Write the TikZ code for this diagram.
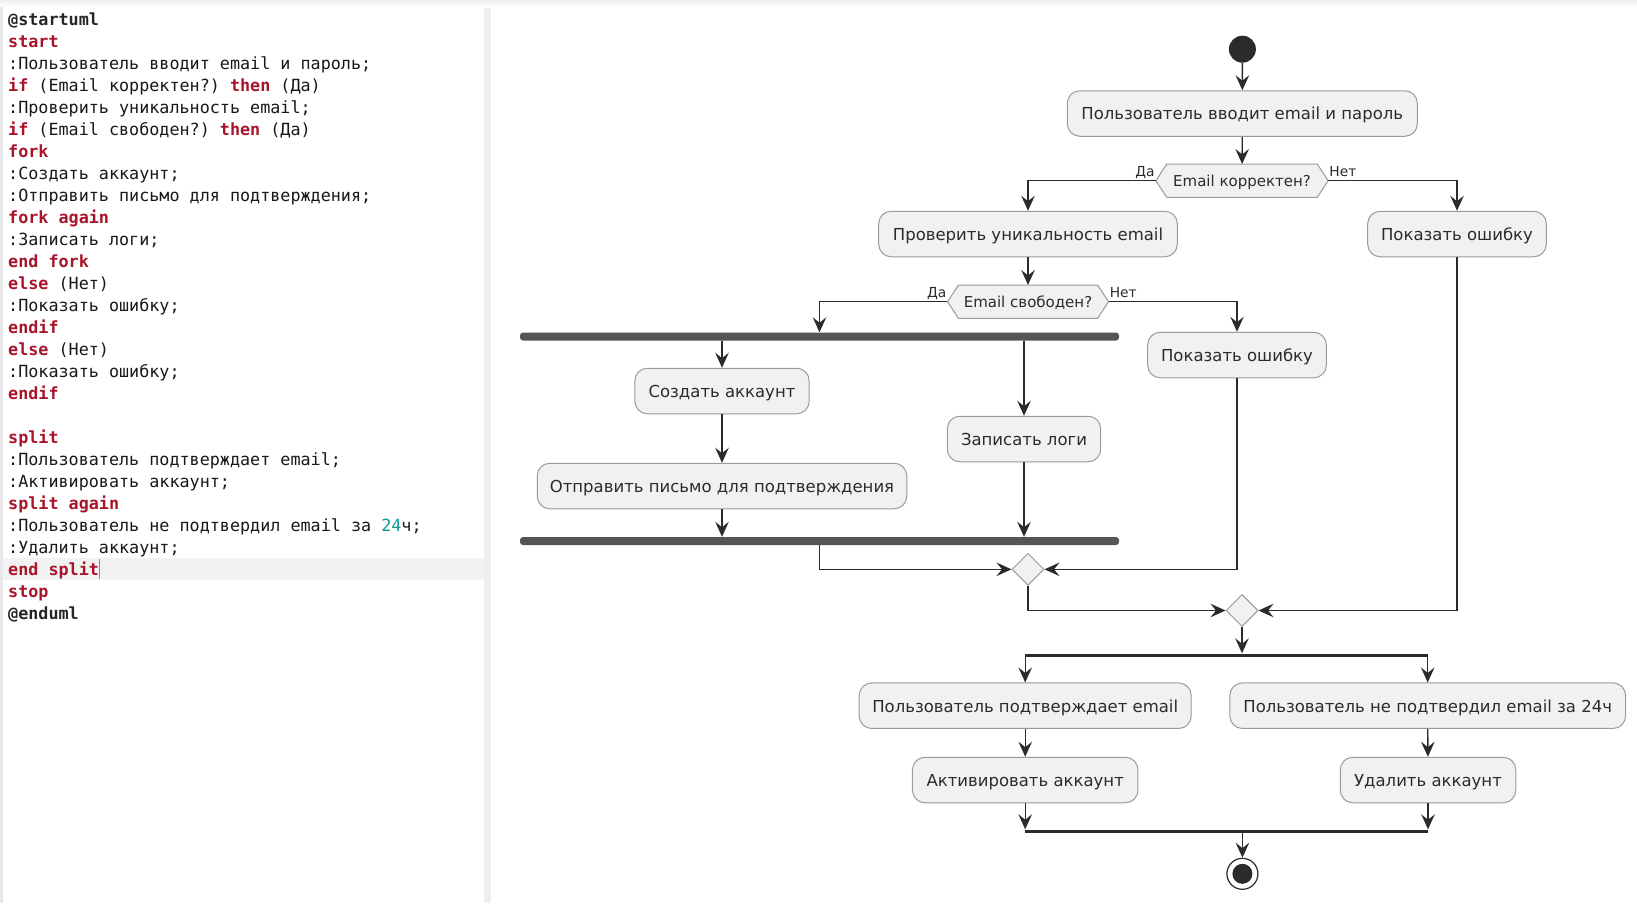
\documentclass[tikz,border=0pt]{standalone}
\usepackage{fontspec}
\setmainfont{DejaVu Sans}
\setmonofont{DejaVu Sans Mono}
\usetikzlibrary{arrows.meta,shapes.geometric,calc}

\definecolor{kwred}{RGB}{168,20,42}
\definecolor{numteal}{RGB}{16,152,152}
\definecolor{codefg}{RGB}{24,24,24}
\definecolor{boxfill}{HTML}{F1F1F1}
\definecolor{boxline}{HTML}{9A9A9A}
\definecolor{flowc}{HTML}{2B2B2B}
\definecolor{barc}{HTML}{555555}
\definecolor{panelgray}{HTML}{EFEFEF}

\newcommand\ckw[1]{\textbf{\color{kwred}#1}}
\newcommand\cnum[1]{{\color{numteal}#1}}

\pgfdeclarelayer{back}
\pgfdeclarelayer{under}
\pgfsetlayers{back,under,main}

\tikzset{
  codeline/.style={anchor=base west, inner sep=0pt, text=codefg,
    font=\fontsize{16.75}{22}\selectfont\ttfamily},
  act/.style={rectangle, rounded corners=12.5pt, draw=boxline, line width=1pt,
    fill=boxfill, inner sep=0pt, minimum height=45.5pt, text=flowc,
    text height=12.6pt, text depth=0pt,
    font=\fontsize{16.5}{20}\selectfont},
  decision/.style={rectangle, inner sep=0pt, minimum height=33pt, text=flowc,
    text height=11.8pt, text depth=0pt,
    font=\fontsize{15}{18}\selectfont},
  hexbox/.style={draw=boxline, line width=1pt, fill=boxfill},
  merge/.style={diamond, aspect=1, draw=boxline, line width=1pt, fill=boxfill,
    inner sep=0pt, minimum width=32pt, minimum height=32pt},
  forkbar/.style={rectangle, rounded corners=3pt, fill=barc, inner sep=0pt,
    minimum width=599pt, minimum height=8pt},
  splitbar/.style={rectangle, fill=flowc, inner sep=0pt,
    minimum width=403pt, minimum height=3pt},
  lbl/.style={inner sep=0pt, text=flowc, font=\fontsize{13.8}{16}\selectfont},
  flow/.style={draw=flowc, line width=1.3pt,
    -{Stealth[length=15pt,width=13.5pt,inset=5.5pt]}},
}

\begin{document}
\begin{tikzpicture}[x=1pt,y=-1pt]
\useasboundingbox (0,0) rectangle (1637,903);

% editor frame
\begin{pgfonlayer}{back}
  \fill[white] (0,0) rectangle (1637,903);
  \shade[top color=black!6, bottom color=white] (0,0) rectangle (1637,7);
  \fill[black!9] (0,7) rectangle (3,903);
  \fill[panelgray] (484,8) rectangle (491,903);
  \fill[black!5] (3,558) rectangle (484,579.5);
\end{pgfonlayer}
\draw[black!45, line width=1pt] (99,559) -- (99,579);

% source listing
\node[codeline] (c0)  at (8,25)  {\textbf{\color{black!85}@startuml}};
\node[codeline] (c1)  at (8,47)  {\ckw{start}};
\node[codeline] (c2)  at (8,69)  {:Пользователь вводит email и пароль;};
\node[codeline] (c3)  at (8,91)  {\ckw{if} (Email корректен?) \ckw{then} (Да)};
\node[codeline] (c4)  at (8,113) {:Проверить уникальность email;};
\node[codeline] (c5)  at (8,135) {\ckw{if} (Email свободен?) \ckw{then} (Да)};
\node[codeline] (c6)  at (8,157) {\ckw{fork}};
\node[codeline] (c7)  at (8,179) {:Создать аккаунт;};
\node[codeline] (c8)  at (8,201) {:Отправить письмо для подтверждения;};
\node[codeline] (c9)  at (8,223) {\ckw{fork again}};
\node[codeline] (c10) at (8,245) {:Записать логи;};
\node[codeline] (c11) at (8,267) {\ckw{end fork}};
\node[codeline] (c12) at (8,289) {\ckw{else} (Нет)};
\node[codeline] (c13) at (8,311) {:Показать ошибку;};
\node[codeline] (c14) at (8,333) {\ckw{endif}};
\node[codeline] (c15) at (8,355) {\ckw{else} (Нет)};
\node[codeline] (c16) at (8,377) {:Показать ошибку;};
\node[codeline] (c17) at (8,399) {\ckw{endif}};
\node[codeline] (c19) at (8,443) {\ckw{split}};
\node[codeline] (c20) at (8,465) {:Пользователь подтверждает email;};
\node[codeline] (c21) at (8,487) {:Активировать аккаунт;};
\node[codeline] (c22) at (8,509) {\ckw{split again}};
\node[codeline] (c23) at (8,531) {:Пользователь не подтвердил email за \cnum{24}ч;};
\node[codeline] (c24) at (8,553) {:Удалить аккаунт;};
\node[codeline] (c25) at (8,575) {\ckw{end split}};
\node[codeline] (c26) at (8,597) {\ckw{stop}};
\node[codeline] (c27) at (8,619) {\textbf{\color{black!85}@enduml}};

% activity diagram
\node[circle, fill=flowc, inner sep=0pt, minimum size=27pt] (start) at (1242.4,49.2) {};
\node[act, minimum width=350pt] (b1) at (1242.3,113.5) {Пользователь вводит email и пароль};
\node[decision, minimum width=172pt] (d1) at (1242,180.7) {Email корректен?};
\node[act, minimum width=298.6pt] (b2) at (1028,234) {Проверить уникальность email};
\node[act, minimum width=178.6pt] (b3) at (1457,234) {Показать ошибку};
\node[decision, minimum width=160.7pt] (d2) at (1028,301.7) {Email свободен?};
\node[forkbar] (fk1) at (819.5,336.5) {};
\node[act, minimum width=178.6pt] (b4) at (1237,355) {Показать ошибку};
\node[act, minimum width=174.3pt] (b5) at (722,391) {Создать аккаунт};
\node[act, minimum width=153.4pt] (b6) at (1024,439) {Записать логи};
\node[act, minimum width=369.5pt] (b7) at (722,486) {Отправить письмо для подтверждения};
\node[forkbar] (fk2) at (819.5,541) {};
\node[merge] (m1) at (1028,569.3) {};
\node[merge] (m2) at (1242,610.5) {};
\node[splitbar] (sp1) at (1226.7,655) {};
\node[act, minimum width=332pt] (b8) at (1025.2,705.7) {Пользователь подтверждает email};
\node[act, minimum width=395.7pt] (b9) at (1427.7,705.7) {Пользователь не подтвердил email за 24ч};
\node[act, minimum width=225.5pt] (b10) at (1025.2,780) {Активировать аккаунт};
\node[act, minimum width=175.5pt] (b11) at (1428,780) {Удалить аккаунт};
\node[splitbar] (sp2) at (1226.7,831) {};
\node[circle, draw=flowc, line width=1.2pt, fill=white, inner sep=0pt, minimum size=31pt] (stop) at (1242.4,873.8) {};
\node[circle, fill=flowc, inner sep=0pt, minimum size=20pt] (stopdot) at (stop.center) {};

% decision outlines
\begin{pgfonlayer}{under}
\foreach \d in {d1,d2}
  \filldraw[hexbox] (\d.west) -- ([xshift=11pt]\d.north west) -- ([xshift=-11pt]\d.north east)
    -- (\d.east) -- ([xshift=-11pt]\d.south east) -- ([xshift=11pt]\d.south west) -- cycle;
\end{pgfonlayer}

% branch labels
\node[lbl, anchor=base east] (y1) at ([xshift=-1pt,yshift=4pt]d1.west) {Да};
\node[lbl, anchor=base west] (n1) at ([xshift=1pt,yshift=4pt]d1.east) {Нет};
\node[lbl, anchor=base east] (y2) at ([xshift=-1pt,yshift=4pt]d2.west) {Да};
\node[lbl, anchor=base west] (n2) at ([xshift=1pt,yshift=4pt]d2.east) {Нет};

% connectors
\draw[flow] (start) -- (b1);
\draw[flow] (b1) -- (d1);
\draw[flow] (d1.west) -| (b2.north);
\draw[flow] (d1.east) -| (b3.north);
\draw[flow] (b2) -- (d2);
\draw[flow] (d2.west) -| (fk1.north);
\draw[flow] (d2.east) -| (b4.north);
\draw[flow] (fk1.south -| b5.north) -- (b5.north);
\draw[flow] (fk1.south -| b6.north) -- (b6.north);
\draw[flow] (b5) -- (b7);
\draw[flow] (b7.south) -- (b7.south |- fk2.north);
\draw[flow] (b6.south) -- (b6.south |- fk2.north);
\draw[flow] (fk2.south) |- (m1.west);
\draw[flow] (b4.south) |- (m1.east);
\draw[flow] (m1.south) |- (m2.west);
\draw[flow] (b3.south) |- (m2.east);
\draw[flow] (m2.south) -- (m2.south |- sp1.north);
\draw[flow] (sp1.south -| b8.north) -- (b8.north);
\draw[flow] (sp1.south -| b9.north) -- (b9.north);
\draw[flow] (b8) -- (b10);
\draw[flow] (b9) -- (b11);
\draw[flow] (b10.south) -- (b10.south |- sp2.north);
\draw[flow] (b11.south) -- (b11.south |- sp2.north);
\draw[flow] (sp2.south -| stop.north) -- (stop.north);
\end{tikzpicture}
\end{document}
